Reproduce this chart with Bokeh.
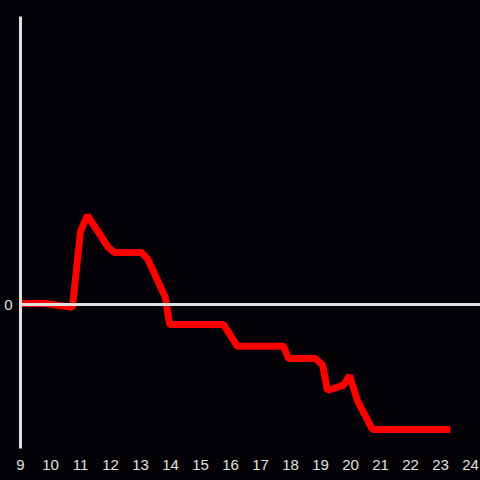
from bokeh.plotting import figure
from bokeh.models import Range1d, Span, FixedTicker
from bokeh.embed import file_html
from bokeh.resources import INLINE

x_hours = [9.0, 9.83, 10.73, 11.0, 11.23, 11.93, 12.13, 13.03, 13.23, 13.83, 13.97,
           15.77, 16.23, 17.77, 17.93, 18.83, 19.07, 19.23, 19.77, 19.97, 20.23, 20.73, 23.33]
y_vals = [0.007, 0.007, -0.02, 0.507, 0.618, 0.396, 0.361, 0.361, 0.32, 0.049, -0.139,
          -0.139, -0.29, -0.29, -0.375, -0.375, -0.42, -0.597, -0.56, -0.493, -0.667, -0.868, -0.868]
x_ticks = list(range(9, 25))
y_ticks = [0]

BG = "#040206"
AX = "#e0e0e0"

p = figure(width=480, height=480, output_backend="svg", toolbar_location=None,
           x_range=Range1d(9, 24.333), y_range=Range1d(-1, 2),
           background_fill_color=BG, border_fill_color=BG, outline_line_color=None,
           min_border_left=20, min_border_right=0, min_border_top=16, min_border_bottom=32)
p.styles = {"background-color": BG}
p.grid.visible = False

p.xaxis.ticker = FixedTicker(ticks=x_ticks)
p.xaxis.axis_line_color = None
p.xaxis.major_tick_line_color = None
p.xaxis.minor_tick_line_color = None
p.xaxis.major_label_text_color = AX
p.xaxis.major_label_text_font_size = "15px"
p.xaxis.major_label_text_font = "Liberation Sans"
p.xaxis.major_label_standoff = 5

p.yaxis.ticker = FixedTicker(ticks=y_ticks)
p.yaxis.axis_line_color = AX
p.yaxis.axis_line_width = 3
p.yaxis.major_tick_line_color = None
p.yaxis.minor_tick_line_color = None
p.yaxis.major_label_text_color = AX
p.yaxis.major_label_text_font_size = "15px"
p.yaxis.major_label_text_font = "Liberation Sans"
p.yaxis.major_label_standoff = 2

p.add_layout(Span(location=0, dimension="width", line_color=AX, line_width=3))

p.line(x_hours, y_vals, line_color="#ff0000", line_width=7)

html = file_html(p, INLINE)
html = html.replace("<body>", '<body style="margin:0;background:%s">' % BG, 1)
open("out.html", "w").write(html)
